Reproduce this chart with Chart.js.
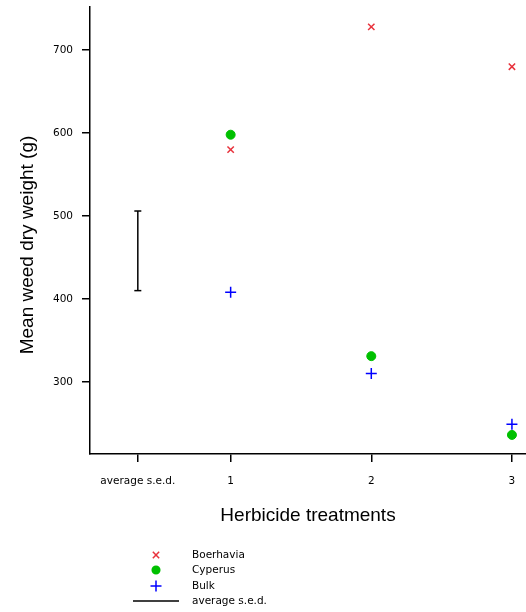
<!DOCTYPE html>
<html>
<head>
<meta charset="utf-8">
<script src="https://cdn.jsdelivr.net/npm/chart.js@4"></script>
<style>
  html, body { margin: 0; padding: 0; background: #fff; }
  #wrap { position: relative; width: 526px; height: 612px; }
</style>
</head>
<body>
<div id="wrap"><canvas id="chart" width="526" height="612"></canvas></div>
<script>
// x positions of the treatment groups (the s.e.d. bar sits left of treatment 1)
const xPositions = [0.34, 1, 2, 3];
const xLabels = ['average s.e.d.', '1', '2', '3'];
const treatments = [1, 2, 3];
const yTicks = [300, 400, 500, 600, 700];
const yTitle = 'Mean weed dry weight (g)';

const boerhavia = [580, 728, 680];
const cyperus = [598, 331, 236];
const bulk = [408, 310, 249];
const sedLow = 410;
const sedHigh = 506;

const legendItems = [
    { label: 'Boerhavia', style: 'crossRot', color: '#e8323c', radius: 4.5 },
    { label: 'Cyperus', style: 'circle', color: '#00c000', radius: 3.8 },
    { label: 'Bulk', style: 'cross', color: '#0000ff', radius: 5.5 },
    { label: 'average s.e.d.', style: 'line', color: '#000', radius: 23 }
];
const legendRows = [555, 570, 586, 601];

const tickFont = { family: '"DejaVu Sans", Verdana, sans-serif', size: 10.5 };
const titleFont = { family: '"Liberation Sans", Arial, sans-serif', size: 19 };

const toPoints = vals => vals.map((v, i) => ({ x: treatments[i], y: v }));

// stacked legend under the plot + y axis title (sits a bit below the plot centre in the original)
const extrasPlugin = {
    id: 'extras',
    afterDraw(chart) {
        const ctx = chart.ctx;
        ctx.save();
        legendItems.forEach((item, i) => {
            const y = legendRows[i];
            ctx.strokeStyle = item.color;
            ctx.fillStyle = item.color;
            ctx.lineWidth = 1.5;
            Chart.helpers.drawPoint(ctx, { pointStyle: item.style, radius: item.radius, rotation: 0, borderWidth: 1.5 }, 156, y);
            ctx.fillStyle = '#000';
            ctx.font = '10.5px "DejaVu Sans", Verdana, sans-serif';
            ctx.textBaseline = 'middle';
            ctx.textAlign = 'left';
            ctx.fillText(item.label, 192, y);
        });

        ctx.translate(28, 245);
        ctx.rotate(-Math.PI / 2);
        ctx.fillStyle = '#000';
        ctx.font = '19px "Liberation Sans", Arial, sans-serif';
        ctx.textAlign = 'center';
        ctx.textBaseline = 'middle';
        ctx.fillText(yTitle, 0, 0);
        ctx.restore();
    }
};

new Chart(document.getElementById('chart'), {
    type: 'scatter',
    data: {
        datasets: [
            {
                label: 'Boerhavia',
                data: toPoints(boerhavia),
                pointStyle: 'crossRot',
                radius: 4.5,
                borderColor: '#e8323c',
                borderWidth: 1.5
            },
            {
                label: 'Cyperus',
                data: toPoints(cyperus),
                pointStyle: 'circle',
                radius: 4.5,
                backgroundColor: '#00c000',
                borderColor: '#00c000',
                borderWidth: 1
            },
            {
                label: 'Bulk',
                data: toPoints(bulk),
                pointStyle: 'cross',
                radius: 5.5,
                borderColor: '#0000ff',
                borderWidth: 1.5
            },
            {
                label: 'average s.e.d.',
                type: 'line',
                data: [{ x: xPositions[0], y: sedLow }, { x: xPositions[0], y: sedHigh }],
                borderColor: '#000',
                borderWidth: 1.5,
                pointStyle: 'line',
                radius: 3.5,
                pointBorderColor: '#000',
                pointBorderWidth: 1.5
            }
        ]
    },
    options: {
        responsive: false,
        animation: false,
        layout: { autoPadding: false, padding: { left: 40, top: 7, right: 0, bottom: 75 } },
        plugins: {
            legend: { display: false },
            tooltip: { enabled: false }
        },
        scales: {
            x: {
                type: 'linear',
                min: 0,
                max: 3.1,
                afterBuildTicks: axis => { axis.ticks = xPositions.map(v => ({ value: v })); },
                afterFit: axis => { axis.height = 83; axis.paddingRight = 0; axis.paddingLeft = 0; },
                ticks: {
                    color: '#000',
                    font: tickFont,
                    padding: 13,
                    maxRotation: 0,
                    autoSkip: false,
                    callback: (v) => xLabels[xPositions.indexOf(v)]
                },
                grid: { drawOnChartArea: false, drawTicks: true, tickLength: 8, color: '#000', lineWidth: 1.5 },
                border: { display: true, color: '#000', width: 1.5 },
                title: {
                    display: true,
                    text: 'Herbicide treatments',
                    color: '#000',
                    font: titleFont,
                    padding: { top: 0, bottom: 10 }
                }
            },
            y: {
                min: 213,
                max: 752,
                afterBuildTicks: axis => { axis.ticks = yTicks.map(v => ({ value: v })); },
                afterFit: axis => { axis.width = 50; axis.paddingTop = 0; axis.paddingBottom = 0; },
                ticks: {
                    color: '#000',
                    font: tickFont,
                    padding: 9
                },
                grid: { drawOnChartArea: false, drawTicks: true, tickLength: 8, color: '#000', lineWidth: 1.5 },
                border: { display: true, color: '#000', width: 1.5 },
                title: { display: false }
            }
        }
    },
    plugins: [extrasPlugin]
});
</script>
</body>
</html>
